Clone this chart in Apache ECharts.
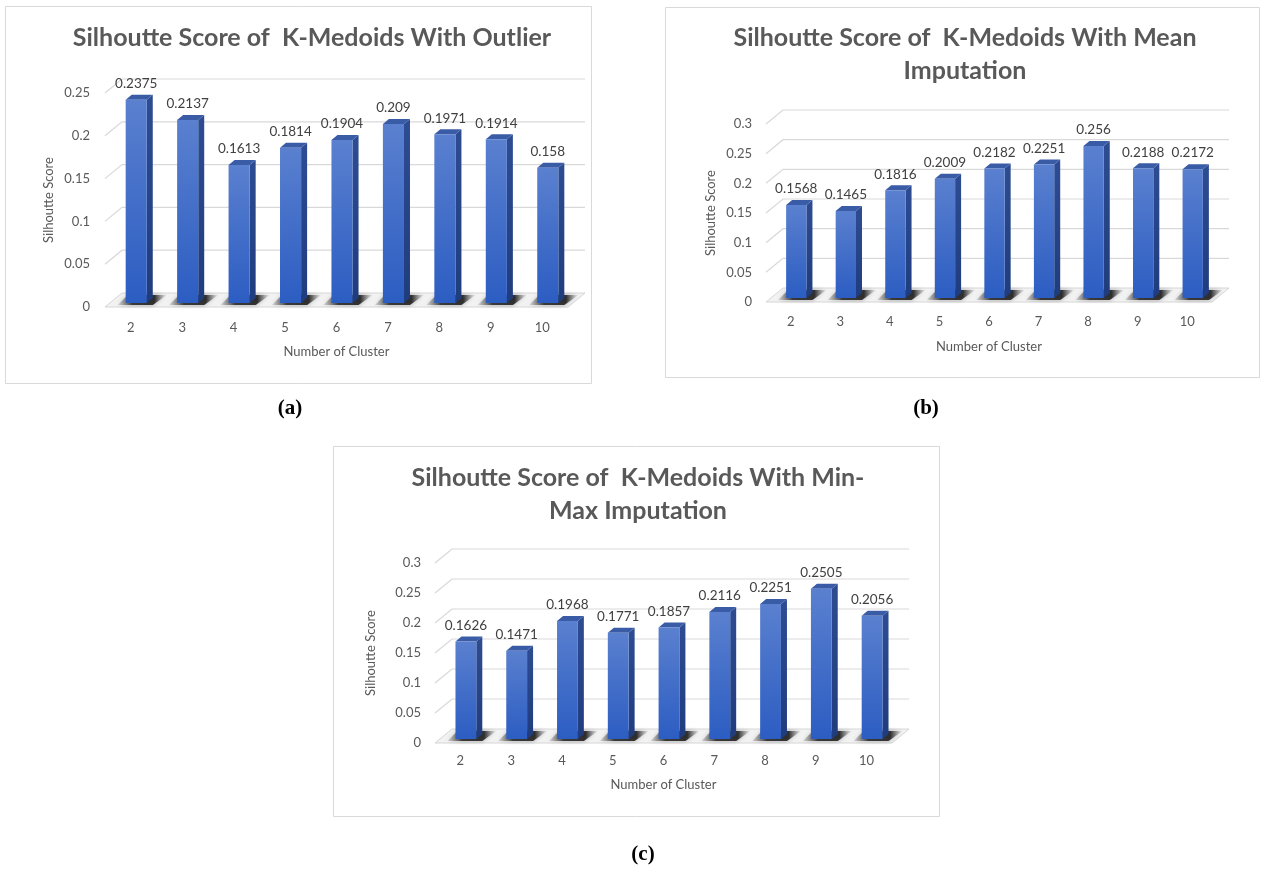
<!DOCTYPE html>
<html>
<head>
<meta charset="utf-8">
<script src="https://cdn.jsdelivr.net/npm/echarts@6/dist/echarts.min.js"></script>
<style>
  html, body { margin: 0; padding: 0; background: #ffffff; }
  #main { width: 1266px; height: 872px; }
</style>
</head>
<body>
<div id="main"></div>
<script>
// Cluster counts on the x axis
const clusters = ['2', '3', '4', '5', '6', '7', '8', '9', '10'];

// Silhouette scores per variant
const scoresOutlier = [0.2375, 0.2137, 0.1613, 0.1814, 0.1904, 0.209, 0.1971, 0.1914, 0.158];
const scoresMean    = [0.1568, 0.1465, 0.1816, 0.2009, 0.2182, 0.2251, 0.256, 0.2188, 0.2172];
const scoresMinMax  = [0.1626, 0.1471, 0.1968, 0.1771, 0.1857, 0.2116, 0.2251, 0.2505, 0.2056];

// Value-axis ticks and their labels
const ticksA = [0, 0.05, 0.1, 0.15, 0.2, 0.25];
const tickLabelsA = ['0', '0.05', '0.1', '0.15', '0.2', '0.25'];
const ticksBC = [0, 0.05, 0.1, 0.15, 0.2, 0.25, 0.3];
const tickLabelsBC = ['0', '0.05', '0.1', '0.15', '0.2', '0.25', '0.3'];

const FONT = 'Lato';
const TEXT = '#595959';
const GRID_LINE = '#d9d9d9';
// offset of the back wall relative to the front plane (pseudo 3D)
const DEPTH = { x: 17, y: -14 };
// bar placement inside the floor depth and bar thickness
const BAR = { shiftX: 5.5, shiftY: -4, ratio: 0.41, sideX: 6, sideY: -5 };

const panels = [
  {
    title: ['Silhoutte Score of  K-Medoids With Outlier'],
    values: scoresOutlier, ticks: ticksA, tickLabels: tickLabelsA, max: 0.25,
    box: [5.5, 6.5, 586, 377], titleX: 312, titleY: 38,
    grid: { left: 105, top: 93, width: 463, height: 214 },
    caption: '(a)', capX: 290, capY: 409,
    yNameGap: 50, xNameGap: 38, xLabelMargin: 14, yLabelMargin: 15
  },
  {
    title: ['Silhoutte Score of  K-Medoids With Mean', 'Imputation'],
    values: scoresMean, ticks: ticksBC, tickLabels: tickLabelsBC, max: 0.3,
    box: [665.5, 7.5, 594, 370], titleX: 965, titleY: 38,
    grid: { left: 766, top: 124, width: 446, height: 178 },
    caption: '(b)', capX: 926, capY: 409,
    yNameGap: 49, xNameGap: 38, xLabelMargin: 13, yLabelMargin: 14
  },
  {
    title: ['Silhoutte Score of  K-Medoids With Min-', 'Max Imputation'],
    values: scoresMinMax, ticks: ticksBC, tickLabels: tickLabelsBC, max: 0.3,
    box: [333.5, 446.5, 606, 370], titleX: 638, titleY: 478,
    grid: { left: 435, top: 563, width: 457, height: 180 },
    caption: '(c)', capX: 643, capY: 855,
    yNameGap: 58, xNameGap: 35, xLabelMargin: 11, yLabelMargin: 14
  }
];

// Back wall: floor at zero, slanted side-wall segment plus horizontal grid line for each tick
function renderWall(params, api) {
  const cs = params.coordSys;
  const val = api.value(1);
  const y = api.coord([0, val])[1];
  const xl = cs.x, xr = cs.x + cs.width;
  const children = [];
  if (val === 0) {
    children.push({
      type: 'polygon',
      shape: { points: [[xl, y], [xr, y], [xr + DEPTH.x, y + DEPTH.y], [xl + DEPTH.x, y + DEPTH.y]] },
      style: { fill: '#f2f2f2', stroke: '#d6d6d6', lineWidth: 1 }
    });
  } else {
    children.push({
      type: 'polyline',
      shape: { points: [[xl, y], [xl + DEPTH.x, y + DEPTH.y], [xr + DEPTH.x, y + DEPTH.y]] },
      style: { stroke: GRID_LINE, lineWidth: 1.2, fill: null }
    });
  }
  return { type: 'group', children: children };
}

// Pseudo-3D column with floor shadow and value label
function renderBar(params, api) {
  const idx = api.value(0);
  const val = api.value(1);
  const top = api.coord([idx, val]);
  const base = api.coord([idx, 0]);
  const w = api.size([1, 0])[0] * BAR.ratio;
  const xl = top[0] - w / 2 + BAR.shiftX;
  const xr = xl + w;
  const yt = top[1] + BAR.shiftY;
  const yb = base[1] + BAR.shiftY;
  const y0 = base[1];
  const sx = BAR.sideX, sy = BAR.sideY;
  return {
    type: 'group',
    children: [
      {
        type: 'polygon',
        shape: { points: [[xl - 8, y0 - 2], [xr + 6, y0 - 2], [xr + 20, y0 + DEPTH.y + 2], [xl + 2, y0 + DEPTH.y + 2]] },
        style: {
          fill: {
            type: 'linear', x: 0, y: 0, x2: 1, y2: 0,
            colorStops: [
              { offset: 0, color: 'rgba(110,110,110,0.2)' },
              { offset: 0.3, color: 'rgba(35,35,35,0.85)' },
              { offset: 0.75, color: 'rgba(25,25,25,0.85)' },
              { offset: 1, color: 'rgba(120,120,120,0.08)' }
            ]
          },
          shadowBlur: 4, shadowColor: 'rgba(0,0,0,0.4)'
        }
      },
      {
        type: 'polygon',
        shape: { points: [[xr, yt], [xr + sx, yt + sy], [xr + sx, yb + sy], [xr, yb]] },
        style: {
          fill: {
            type: 'linear', x: 0, y: 0, x2: 0, y2: 1,
            colorStops: [{ offset: 0, color: '#2d4c92' }, { offset: 1, color: '#1f3c7e' }]
          }
        }
      },
      {
        type: 'polygon',
        shape: { points: [[xl, yt], [xl + sx, yt + sy], [xr + sx, yt + sy], [xr, yt]] },
        style: { fill: '#3a5ca6' }
      },
      {
        type: 'rect',
        shape: { x: xl, y: yt, width: w, height: yb - yt },
        style: {
          fill: {
            type: 'linear', x: 0, y: 0, x2: 0, y2: 1,
            colorStops: [{ offset: 0, color: '#5a80cf' }, { offset: 1, color: '#2c5dc2' }]
          }
        }
      },
      {
        type: 'text',
        x: (xl + xr) / 2,
        y: yt + sy - 4,
        style: {
          text: String(val), fill: '#404040', font: '13.5px ' + FONT,
          textAlign: 'center', textVerticalAlign: 'bottom'
        }
      }
    ]
  };
}

const grids = [], xAxes = [], yAxes = [], series = [], graphics = [];

panels.forEach(function (p, i) {
  grids.push(Object.assign({ containLabel: false }, p.grid));

  xAxes.push({
    type: 'category', gridIndex: i, data: clusters, boundaryGap: true,
    name: 'Number of Cluster', nameLocation: 'middle', nameGap: p.xNameGap,
    nameTextStyle: { color: TEXT, fontFamily: FONT, fontSize: 13 },
    axisLine: { show: false }, axisTick: { show: false },
    axisLabel: { color: TEXT, fontFamily: FONT, fontSize: 13, margin: p.xLabelMargin },
    splitLine: { show: false }
  });

  yAxes.push({
    type: 'value', gridIndex: i, min: 0, max: p.max, interval: 0.05,
    name: 'Silhoutte Score', nameLocation: 'middle', nameGap: p.yNameGap,
    nameTextStyle: { color: TEXT, fontFamily: FONT, fontSize: 13 },
    axisLine: { show: false }, axisTick: { show: false }, splitLine: { show: false },
    axisLabel: {
      color: TEXT, fontFamily: FONT, fontSize: 13, margin: p.yLabelMargin,
      formatter: function (v, k) { return p.tickLabels[k]; }
    }
  });

  series.push({
    type: 'custom', xAxisIndex: i, yAxisIndex: i, clip: false, silent: true, z: 1,
    renderItem: renderWall,
    data: p.ticks.map(function (t) { return [0, t]; })
  });

  series.push({
    type: 'custom', xAxisIndex: i, yAxisIndex: i, clip: false, z: 2,
    renderItem: renderBar,
    data: p.values.map(function (v, k) { return [k, v]; })
  });

  // panel frame
  graphics.push({
    type: 'rect', z: -10,
    shape: { x: p.box[0], y: p.box[1], width: p.box[2], height: p.box[3] },
    style: { fill: '#ffffff', stroke: '#d9d9d9', lineWidth: 1 }
  });

  // chart title (one or two lines)
  p.title.forEach(function (line, k) {
    graphics.push({
      type: 'text', x: p.titleX, y: p.titleY + k * 33,
      style: {
        text: line, fill: TEXT, font: 'bold 25px ' + FONT,
        textAlign: 'center', textVerticalAlign: 'middle'
      }
    });
  });

  // sub-figure caption
  graphics.push({
    type: 'text', x: p.capX, y: p.capY,
    style: {
      text: p.caption, fill: '#000000', font: 'bold 21px "Liberation Serif"',
      textAlign: 'center', textVerticalAlign: 'middle'
    }
  });
});

const chart = echarts.init(document.getElementById('main'));
chart.setOption({
  backgroundColor: '#ffffff',
  animation: false,
  grid: grids,
  xAxis: xAxes,
  yAxis: yAxes,
  series: series,
  graphic: graphics
});
</script>
</body>
</html>
